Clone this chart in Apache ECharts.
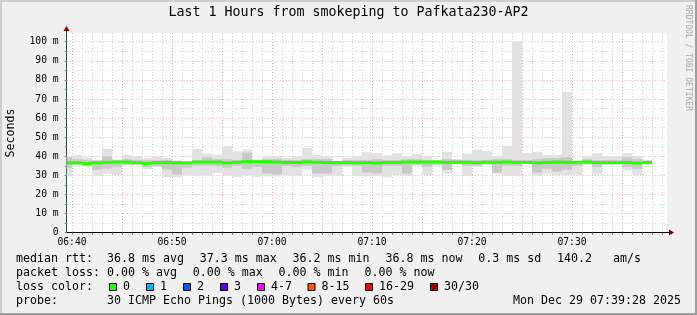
<!DOCTYPE html>
<html><head><meta charset="utf-8">
<script src="https://cdn.jsdelivr.net/npm/echarts@6/dist/echarts.min.js"></script>
<style>html,body{margin:0;padding:0;background:#f0f0f0}#c{width:697px;height:315px}</style>
</head><body><div id="c"></div>
<script>
// ---- data (ms) ----
const rangeStart = '06:39:28';
const rangeEnd = '07:39:28';
const stepStart = ['06:39','06:40','06:41','06:42','06:43','06:44','06:45','06:46','06:47','06:48',
  '06:49','06:50','06:51','06:52','06:53','06:54','06:55','06:56','06:57','06:58',
  '06:59','07:00','07:01','07:02','07:03','07:04','07:05','07:06','07:07','07:08',
  '07:09','07:10','07:11','07:12','07:13','07:14','07:15','07:16','07:17','07:18',
  '07:19','07:20','07:21','07:22','07:23','07:24','07:25','07:26','07:27','07:28',
  '07:29','07:30','07:31','07:32','07:33','07:34','07:35','07:36','07:37'];
const medianRtt = [36.6,36.6,36.2,36.6,36.9,37.0,37.0,36.7,36.3,36.7,
  36.7,36.6,36.6,37.0,37.0,37.0,36.6,36.9,37.2,37.2,
  37.2,37.0,36.8,36.8,37.1,36.9,36.7,36.7,36.8,36.6,
  36.7,36.5,36.8,36.8,37.0,37.0,37.0,37.1,36.8,36.9,
  36.9,36.7,36.9,36.9,37.0,36.8,36.8,36.6,36.8,37.0,
  36.9,36.9,37.0,36.7,36.7,36.7,36.8,36.5,36.8];
const pingMin = [29.5,35.1,34.7,29.8,30.9,30.2,35.1,35.4,33.3,34.4,
  29.1,29.1,30.0,30.0,30.0,31.2,30.0,29.1,30.0,29.1,
  29.5,29.5,30.0,29.8,33.0,29.1,29.8,29.8,34.7,29.8,
  29.5,29.8,29.1,30.2,29.8,35.1,30.2,35.1,30.9,35.6,
  29.8,34.7,35.6,30.9,29.8,29.8,36.0,29.8,30.9,30.2,
  30.2,30.2,35.6,30.4,35.6,35.6,32.6,30.2,35.6];
const pingLow = [34.0,35.6,35.2,33.0,33.5,34.5,35.5,35.6,34.5,35.0,
  33.0,30.5,34.0,35.0,35.0,35.0,34.0,35.0,33.5,34.5,
  31.0,30.5,35.0,34.5,35.0,31.0,31.0,35.0,35.2,35.0,
  31.5,31.0,35.0,35.0,31.0,35.6,34.5,35.6,33.0,36.0,
  35.0,35.2,35.8,31.5,35.0,35.0,36.0,31.5,33.5,32.0,
  33.0,35.0,35.8,34.5,35.8,35.8,34.5,33.5,35.8];
const pingHigh = [39.5,38.5,38.0,37.8,40.0,37.8,38.5,38.0,38.0,38.0,
  38.0,37.5,37.0,38.0,39.5,38.5,38.5,38.0,42.0,37.5,
  38.5,38.5,38.0,38.0,38.5,38.5,38.5,37.2,38.0,38.0,
  38.0,38.5,38.0,38.0,38.5,38.5,38.0,37.5,38.5,38.0,
  38.0,38.0,38.0,38.5,38.5,38.0,38.0,38.5,39.0,39.0,
  39.5,37.2,38.5,38.0,38.0,38.0,39.5,38.5,37.5];
const pingMax = [40.3,40.8,39.4,38.2,44.0,38.2,40.8,40.0,39.1,40.0,
  39.1,37.9,37.3,44.0,41.4,40.7,45.2,42.6,43.5,38.2,
  40.0,40.0,39.1,40.0,44.2,40.7,40.0,37.3,39.1,40.3,
  42.2,41.7,40.5,41.7,40.0,41.2,40.3,37.9,42.4,38.6,
  41.4,43.5,42.9,40.0,45.5,100.0,41.7,42.4,40.7,40.8,
  73.8,37.3,40.0,41.7,40.0,40.0,41.7,40.0,38.2];

const legendRows = [
  [['median rtt:',16],['36.8 ms avg',107],['37.3 ms max',199.8],['36.2 ms min',292.6],['36.8 ms now',385.4],['0.3 ms sd',478.2],['140.2   am/s',557]],
  [['packet loss:',16],['0.00 % avg',107],['0.00 % max',192.8],['0.00 % min',278.6],['0.00 % now',364.4]],
  [['loss color:',16]],
  [['probe:',16],['30 ICMP Echo Pings (1000 Bytes) every 60s',107]]
];
const lossLabels = ['0','1','2','3','4-7','8-15','16-29','30/30'];
const lossColors = ['#26ff00','#00b8ff','#0059ff','#5e00ff','#ff00ff','#ff5500','#ff0000','#a10000'];
const lossX = [109,146,183,220,257,307.5,365,430];
const title = 'Last 1 Hours from smokeping to Pafkata230-AP2';
const stamp = 'Mon Dec 29 07:39:28 2025';

// ---- helpers ----
function tm(s){const p=s.split(':');return new Date(2025,11,29,+p[0],+p[1],p[2]?+p[2]:0).getTime();}
const STEP = 60000;
const seriesData = stepStart.map((s,i)=>[tm(s), tm(s)+STEP, pingMin[i], pingLow[i], pingHigh[i], pingMax[i], medianRtt[i]]);
const MONO = 'DejaVu Sans Mono';
const LFONT = '11.63px "DejaVu Sans Mono"';
const GRID = '#d2d2d2', MGRID = '#eab0b0';
const pad = n => (n<10?'0':'')+n;

const chart = echarts.init(document.getElementById('c'), null, {renderer:'canvas'});
const graphics = [
  {type:'rect', shape:{x:0,y:0,width:697,height:2}, style:{fill:'#cfcfcf'}, silent:true},
  {type:'rect', shape:{x:0,y:0,width:2,height:315}, style:{fill:'#cfcfcf'}, silent:true},
  {type:'rect', shape:{x:695,y:0,width:2,height:315}, style:{fill:'#9e9e9e'}, silent:true},
  {type:'rect', shape:{x:0,y:313,width:697,height:2}, style:{fill:'#9e9e9e'}, silent:true},
  {type:'text', x:348.5, y:13, style:{text:title, font:'13.3px "DejaVu Sans Mono"', fill:'#000', align:'center', verticalAlign:'middle'}},
  {type:'text', x:11, y:133, rotation:Math.PI/2, style:{text:'Seconds', font:LFONT, fill:'#000', align:'center', verticalAlign:'middle'}},
  {type:'text', x:688, y:5, rotation:-Math.PI/2, style:{text:'RRDTOOL / TOBI OETIKER', font:'8px "DejaVu Sans Mono"', fill:'#aaaaaa', align:'left', verticalAlign:'middle'}},
  {type:'line', shape:{x1:667,y1:232.5,x2:671,y2:232.5}, style:{stroke:'#000',lineWidth:1}},
  {type:'polygon', shape:{points:[[669,229.5],[674,232.5],[669,235.5]]}, style:{fill:'#7f0000'}},
  {type:'line', shape:{x1:66.5,y1:33,x2:66.5,y2:29}, style:{stroke:'#2c4d43',lineWidth:1}},
  {type:'polygon', shape:{points:[[63.5,31],[66.5,26],[69.5,31]]}, style:{fill:'#7f0000'}}
];
const rowY = [259,273,287,301];
legendRows.forEach((row,r)=>row.forEach(([t,x])=>graphics.push({type:'text', x:x, y:rowY[r], style:{text:t, font:LFONT, fill:'#000', verticalAlign:'middle'}})));
lossLabels.forEach((l,i)=>{
  graphics.push({type:'rect', shape:{x:lossX[i]+0.5,y:283.5,width:7,height:7}, style:{fill:lossColors[i], stroke:'#000', lineWidth:1}});
  graphics.push({type:'text', x:lossX[i]+14, y:287, style:{text:l, font:LFONT, fill:'#000', verticalAlign:'middle'}});
});
graphics.push({type:'text', x:681, y:301, style:{text:stamp, font:LFONT, fill:'#000', align:'right', verticalAlign:'middle'}});

chart.setOption({
  backgroundColor:'#f0f0f0',
  animation:false,
  grid:{left:66.7, right:30.3, top:33, bottom:82.3, show:true, backgroundColor:'#fff', borderWidth:0},
  xAxis:{type:'time', min:tm(rangeStart), max:tm(rangeEnd), minInterval:120000, maxInterval:120000,
    axisLine:{show:true, onZero:false, lineStyle:{color:'#000', width:1}},
    axisTick:{show:true, length:2, lineStyle:{color:'#888'}},
    axisLabel:{show:true, showMinLabel:false, showMaxLabel:false, margin:5, color:'#000', fontFamily:MONO, fontSize:9.7,
      formatter:function(v){const d=new Date(v); if(d.getSeconds()!==0||d.getMinutes()%10!==0) return ''; return pad(d.getHours())+':'+pad(d.getMinutes());}},
    splitLine:{show:true, showMinLine:false, showMaxLine:false, lineStyle:{color:[MGRID,GRID,GRID,GRID,GRID], type:[1,2], width:1}}
  },
  yAxis:{type:'value', min:0, max:104.55, interval:5,
    axisLine:{show:true, lineStyle:{color:'#2c4d43', width:1}},
    axisTick:{show:true, length:2, lineStyle:{color:'#888'}},
    axisLabel:{showMaxLabel:false, margin:8, color:'#000', fontFamily:MONO, fontSize:9.7,
      formatter:function(v){ if(Math.abs(v%10)>1e-6) return ''; return v===0?'0':(v+' m'); }},
    splitLine:{show:true, showMinLine:false, showMaxLine:false, lineStyle:{color:[GRID,MGRID], type:[1,2], width:1}}
  },
  series:[{
    type:'custom', data:seriesData, encode:{x:[0,1], y:[2,5]},
    renderItem:function(params, api){
      const cs = params.coordSys;
      const clipR = {x:cs.x, y:cs.y, width:cs.width, height:cs.height};
      const s = api.value(0), e = api.value(1);
      function band(lo, hi, fill){
        const a = api.coord([s, hi]), b = api.coord([e, lo]);
        const r = echarts.graphic.clipRectByRect({x:a[0], y:a[1], width:b[0]-a[0], height:b[1]-a[1]}, clipR);
        return r ? {type:'rect', shape:r, style:{fill:fill}} : null;
      }
      const m = api.coord([s, api.value(6)]), me = api.coord([e, api.value(6)]);
      const mr = echarts.graphic.clipRectByRect({x:m[0], y:m[1]-1.5, width:me[0]-m[0], height:3}, clipR);
      const ch = [band(api.value(2), api.value(5), '#e2e2e2'), band(api.value(3), api.value(4), '#c9c9c9')];
      if (mr) ch.push({type:'rect', shape:mr, style:{fill:lossColors[0]}});
      return {type:'group', children:ch.filter(Boolean)};
    }
  }],
  graphic:graphics
});
</script></body></html>
